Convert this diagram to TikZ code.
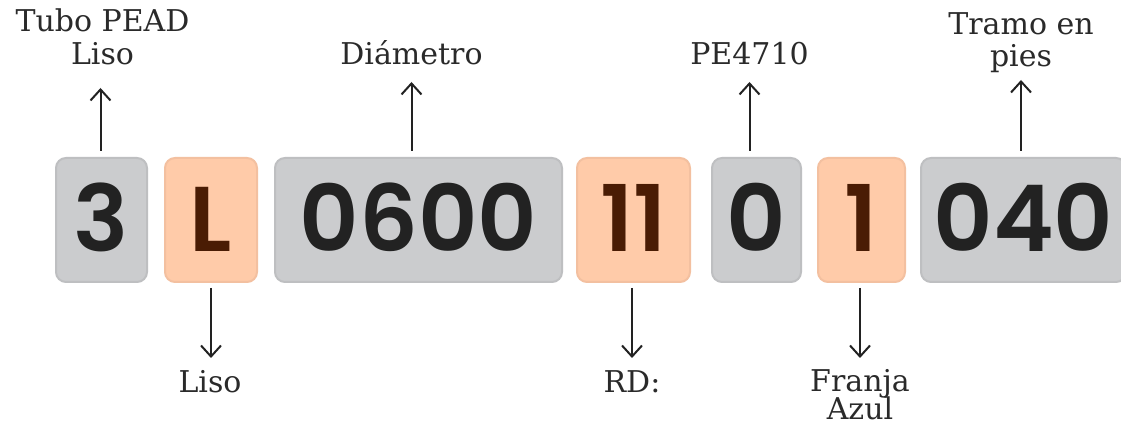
\documentclass[tikz,border=0pt]{standalone}
\usepackage{fontspec}
\setmainfont{DejaVu Serif}
\newfontfamily\numfont{Poppins}[UprightFont=* SemiBold]
\usetikzlibrary{arrows.meta,calc}
\definecolor{grayfill}{HTML}{CBCCCE}
\definecolor{graydraw}{HTML}{BEBFC1}
\definecolor{peachfill}{HTML}{FFCBA9}
\definecolor{peachdraw}{HTML}{F3C0A0}
\definecolor{graytext}{HTML}{222222}
\definecolor{browntext}{HTML}{4A1C04}
\definecolor{labeltext}{HTML}{2A2A2A}
\tikzset{
 codebox/.style={rounded corners=10pt, line width=2pt, minimum height=124pt, inner sep=0pt,
   text height=64pt, text depth=0pt, font=\numfont\fontsize{92}{92}\selectfont},
 graybox/.style={codebox, fill=grayfill, draw=graydraw, text=graytext},
 peachbox/.style={codebox, fill=peachfill, draw=peachdraw, text=browntext},
 lbl/.style={inner sep=0pt, anchor=base, text=labeltext, font=\fontsize{30}{33}\selectfont},
 arr/.style={-{Straight Barb[length=11pt,width=20pt]}, line width=2pt, draw=graytext},
}
\begin{document}
\begin{tikzpicture}[x=1pt,y=1pt]
\clip (0,0) rectangle (1121,430);
\fill[white] (0,0) rectangle (1121,430);
% code boxes
\node[graybox, minimum width=91pt] (b3) at (101.5,210) {3};
\node[peachbox, minimum width=92pt] (bL) at (211,210) {L};
\node[graybox, minimum width=287pt] (b0600) at (418.5,210) {0600};
\node[peachbox, minimum width=113pt] (b11) at (633.5,210) {11};
\node[graybox, minimum width=89pt] (b0) at (756.5,210) {0};
\node[peachbox, minimum width=87pt] (b1) at (861.5,210) {1};
\node[graybox, minimum width=205pt] (b040) at (1023.5,210) {040};
% top labels
\node[lbl] (l1a) at (102.5,398) {Tubo PEAD};
\node[lbl] (l1) at (102.5,365) {Liso};
\node[lbl] (l2) at (411.5,365) {Diámetro};
\node[lbl] (l3) at (749.5,365) {PE4710};
\node[lbl] (l4a) at (1021,395) {Tramo en};
\node[lbl] (l4) at (1021,363) {pies};
% bottom labels
\node[lbl] (l5) at (210,37) {Liso};
\node[lbl] (l6) at (632,37) {RD:};
\node[lbl] (l7) at (860,38) {Franja};
\node[lbl] (l7b) at (860,10) {Azul};
% arrows up
\draw[arr] ($(b3.north -| l1.base)+(-2,6)$) -- ($(l1.base)+(-2,-23)$);
\draw[arr] ($(b0600.north -| l2.base)+(0,6)$) -- ($(l2.base)+(0,-17)$);
\draw[arr] ($(b0.north -| l3.base)+(0,6)$) -- ($(l3.base)+(0,-17)$);
\draw[arr] ($(b040.north -| l4.base)+(0,6)$) -- ($(l4.base)+(0,-13)$);
% arrows down
\draw[arr] ($(bL.south -| l5.base)+(1,-5)$) -- ($(l5.base)+(1,35)$);
\draw[arr] ($(b11.south -| l6.base)+(0,-5)$) -- ($(l6.base)+(0,35)$);
\draw[arr] ($(b1.south -| l7.base)+(0,-5)$) -- ($(l7.base)+(0,34)$);
\end{tikzpicture}
\end{document}
